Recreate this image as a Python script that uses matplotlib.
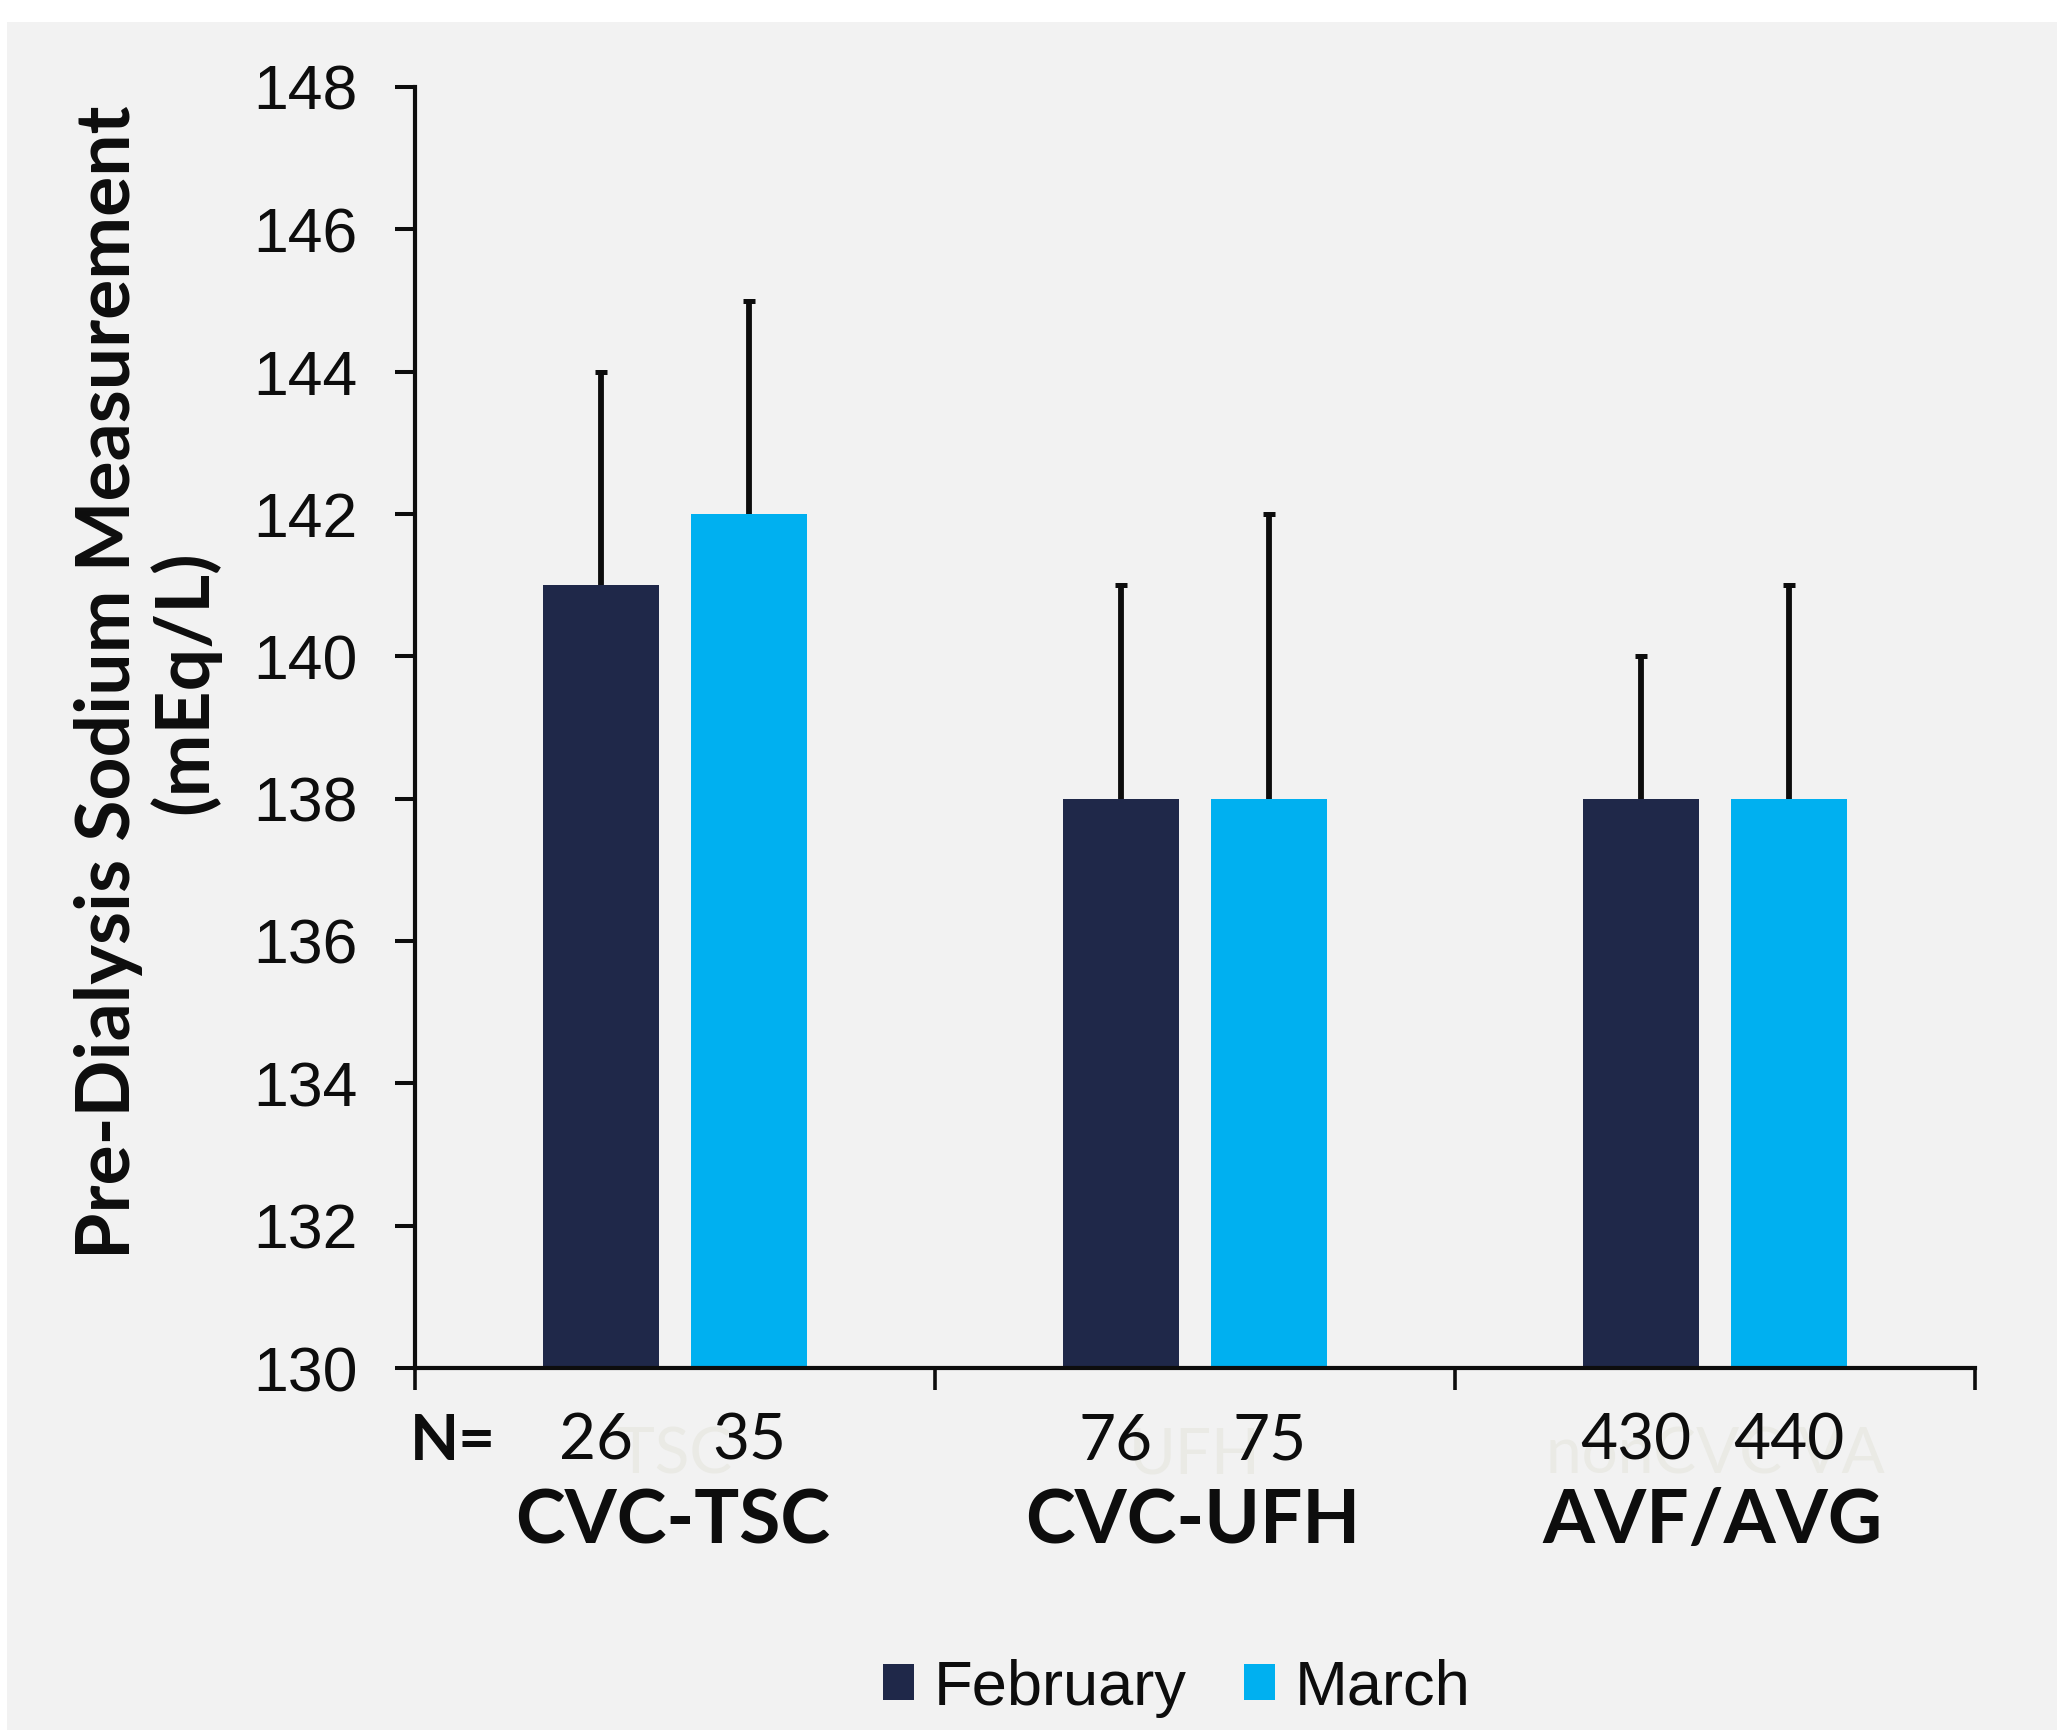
import numpy as np
import matplotlib
matplotlib.use("Agg")
import matplotlib.pyplot as plt
from matplotlib.patches import Rectangle

# data
groups = ["CVC-TSC", "CVC-UFH", "AVF/AVG"]
hidden_labels = ["TSC", "UFH", "nonCVC VA"]
feb_mean = [141, 138, 138]
mar_mean = [142, 138, 138]
feb_err = [3, 3, 2]
mar_err = [3, 4, 3]
feb_n = [26, 76, 430]
mar_n = [35, 75, 440]
yticks = [130, 132, 134, 136, 138, 140, 142, 144, 146, 148]

FEB_COLOR = "#1F2849"
MAR_COLOR = "#00B0F0"
BG = "#F2F2F2"
INK = "#0D0D0D"
W, H = 2057, 1730

fig = plt.figure(figsize=(W / 100, H / 100), dpi=100)
fig.patch.set_facecolor("white")
fig.patches.append(Rectangle((7 / W, 0), 1 - 7 / W, 1 - 22 / H,
                             transform=fig.transFigure, facecolor=BG,
                             edgecolor="none", zorder=-10))

ax_bottom = 1 - 1368 / H
ax_height = (1368 - 87) / H
ax = fig.add_axes([415 / W, ax_bottom, (1975 - 415) / W, ax_height])
ax.set_facecolor("none")

x = np.arange(len(groups))
width = 0.222
off = 0.1425
ax.bar(x - off, np.array(feb_mean) - 130, width, bottom=130, color=FEB_COLOR,
       label="February", zorder=2)
ax.bar(x + off, np.array(mar_mean) - 130, width, bottom=130, color=MAR_COLOR,
       label="March", zorder=2)
for xs, m, e in [(x - off, feb_mean, feb_err), (x + off, mar_mean, mar_err)]:
    eb = ax.errorbar(xs, m, yerr=[np.zeros(len(m)), e], fmt="none",
                     ecolor=INK, elinewidth=4.2, capsize=4.3, capthick=3.6,
                     zorder=1)
    eb[1][0].set_visible(False)  # no cap at the bar top

ax.set_xlim(-0.5, 2.5)
ax.set_ylim(130, 148)
ax.set_yticks(yticks)
ax.set_yticklabels([str(v) for v in yticks], family="Liberation Sans",
                   fontsize=45, color=INK)
ax.tick_params(axis="y", direction="out", length=14.4, width=2.9, pad=27,
               color=INK)
ax.set_xticks([-0.5, 0.5, 1.5, 2.5])
ax.set_xticklabels([])
ax.tick_params(axis="x", direction="out", length=16, width=2.6, color=INK)
for s in ["top", "right"]:
    ax.spines[s].set_visible(False)
for s in ["left", "bottom"]:
    ax.spines[s].set_linewidth(3.0)
    ax.spines[s].set_color(INK)


def row(ypix):
    # pixel row of the figure -> axes y fraction
    return ((1 - ypix / H) - ax_bottom) / ax_height


trans = ax.get_xaxis_transform()
# faint leftover category labels
for i, lab in enumerate(hidden_labels):
    ax.text(x[i], row(1456), lab, transform=trans, ha="center", va="center",
            family="Lato", fontsize=46, color="#EAEAE5", zorder=0,
            clip_on=False)
# counts and group names under the axis
fig.text(410 / W, 1 - 1442 / H, "N=", ha="left", va="center",
         family="Lato", fontweight="bold", fontsize=46, color=INK)
for i in range(len(groups)):
    ax.text(x[i] - off - 0.01, row(1442), str(feb_n[i]), transform=trans,
            ha="center", va="center", family="Lato", fontsize=46, color=INK,
            clip_on=False)
    ax.text(x[i] + off, row(1442), str(mar_n[i]), transform=trans,
            ha="center", va="center", family="Lato", fontsize=46, color=INK,
            clip_on=False)
    ax.text(x[i] - 0.005, row(1522), groups[i], transform=trans, ha="center",
            va="center", family="Lato", fontweight="bold", fontsize=54,
            color=INK, clip_on=False)

fig.text(147 / W, 1 - 682 / H, "Pre-Dialysis Sodium Measurement\n(mEq/L)",
         rotation=90, ha="center", va="center", multialignment="center",
         family="Lato", fontweight="bold", fontsize=54, color=INK,
         linespacing=1.1)

leg = fig.legend(loc="center", bbox_to_anchor=(1177 / W, 1 - 1688 / H), ncol=2,
                 frameon=False, prop={"family": "Liberation Sans", "size": 45.5},
                 handlelength=0.49, handleheight=0.49, handletextpad=0.32,
                 columnspacing=0.9)
for t in leg.get_texts():
    t.set_color(INK)

fig.savefig("out.png", dpi=100, facecolor=fig.get_facecolor())
